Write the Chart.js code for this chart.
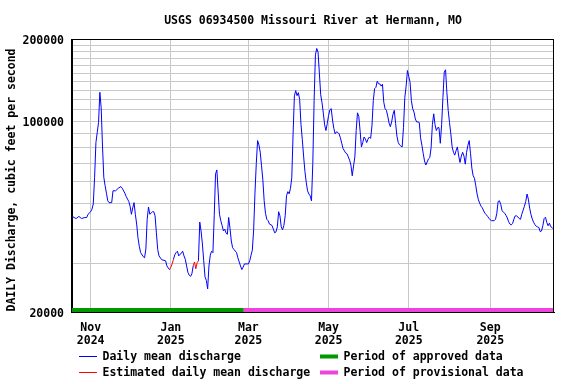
<!DOCTYPE html>
<html>
<head>
<meta charset="utf-8">
<title>USGS 06934500 Missouri River at Hermann, MO</title>
<script src="https://cdn.jsdelivr.net/npm/chart.js@4.4.1/dist/chart.umd.min.js"></script>
<style>
    html, body { margin: 0; padding: 0; background: #ffffff; }
    #wrap { width: 576px; height: 384px; }
</style>
</head>
<body>
<div id="wrap"><canvas id="hydrograph" width="576" height="384"></canvas></div>
<script>
'use strict';

// Day offsets are counted from 2024-10-17 (day 0).
var START_DATE = '2024-10-17';

// Daily mean discharge, cfs (null = estimated day, drawn in red below)
var flowDays = [
    1, 3, 4, 6, 8, 10, 12, 13, 15, 16, 17, 18, 19, 20, 21, 22, 23, 24, 25, 26,
    27, 28, 29, 31, 32, 34, 36, 38, 39, 41, 42, 44, 45, 46, 47, 48, 49, 50, 51, 52,
    53, 55, 56, 57, 58, 59, 60, 61, 62, 63, 64, 65, 66, 67, 69, 72, 73, 74, 75, 76,
    77, 78, 79, 80, 81, 82, 84, 85, 86, 87, 88, 89, 90, 91, 92, 93, 94, 95, 96, 97,
    98, 99, 100, 101, 102, 103, 104, 105, 106, 107, 108, 109, 110, 111, 112, 113, 114, 115, 116, 117,
    118, 119, 120, 121, 122, 123, 124, 126, 127, 128, 129, 130, 131, 132, 134, 135, 136, 137, 138, 139,
    140, 141, 142, 143, 144, 145, 146, 147, 148, 149, 150, 151, 153, 154, 155, 156, 157, 158, 159, 160,
    161, 162, 163, 164, 165, 166, 167, 168, 169, 170, 171, 172, 173, 174, 175, 176, 177, 178, 179, 180,
    181, 182, 183, 184, 185, 186, 187, 188, 189, 190, 191, 192, 193, 194, 195, 196, 197, 198, 199, 200,
    201, 202, 203, 204, 205, 206, 207, 209, 210, 211, 212, 213, 214, 215, 216, 217, 218, 219, 220, 221,
    222, 223, 224, 225, 226, 227, 228, 229, 230, 231, 232, 233, 234, 235, 236, 237, 238, 239, 240, 241,
    242, 243, 244, 245, 246, 247, 248, 249, 250, 251, 252, 253, 254, 255, 256, 257, 258, 259, 260, 261,
    262, 263, 264, 265, 266, 267, 268, 269, 270, 271, 272, 273, 274, 275, 276, 277, 278, 279, 280, 281,
    282, 283, 284, 285, 286, 287, 288, 289, 290, 291, 292, 293, 294, 295, 296, 297, 298, 299, 300, 301,
    302, 303, 304, 305, 306, 307, 308, 309, 310, 311, 312, 313, 314, 315, 316, 317, 318, 319, 320, 322,
    323, 324, 325, 326, 327, 328, 329, 330, 331, 332, 333, 334, 335, 336, 337, 338, 339, 340, 341, 342,
    343, 344, 345, 346, 347, 348, 349, 350, 351, 352, 353, 354, 355, 356, 357, 358, 359, 360, 361, 362,
    363, 364, 365, 366, 367
];
var flowCfs = [
    44800, 44200, 44000, 44800, 44000, 44300, 44400, 45600, 46600, 47600, 49800, 62300, 83500, 91000, 99000, 127600, 112000, 81100, 62300, 58000,
    54500, 51100, 50300, 50300, 55600, 55600, 56800, 57600, 56800, 54500, 53000, 50800, 48800, 45600, 48100, 50300, 45600, 42000, 37400, 34800,
    33000, 31900, 31600, 34000, 43700, 48500, 45600, 46100, 46600, 46600, 45000, 39000, 33900, 32100, 31100, 30800, 29500, 29000, 28600, null,
    null, 31200, 32400, 33000, 33400, 32100, 32900, 33400, 32100, 31200, 29500, 27900, 27300, 27000, 27600, 29500, null, null, null, 30800,
    42700, 39600, 35500, 30800, 26900, 26100, 24300, 29500, 32300, 33400, 33000, 45000, 64000, 66300, 55000, 45600, 43200, 41500, 39600, 40200,
    39000, 38500, 44400, 40500, 36400, 34400, 33900, 33000, 31600, 30500, 29500, 28600, 29200, 30000, 30000, 30000, 30800, 32300, 33700, 40000,
    54500, 70000, 84900, 81900, 77000, 68600, 61000, 51100, 46000, 43700, 43200, 42000, 41500, 40200, 39000, 39300, 41000, 46600, 45000, 41000,
    40000, 41500, 45000, 53300, 55200, 54200, 56700, 62000, 89900, 123800, 129400, 124000, 127200, 120000, 97400, 85800, 74500, 65500, 59800, 55600,
    54100, 53300, 51100, 70000, 118900, 175000, 184600, 179000, 150000, 125000, 116900, 107000, 97000, 92400, 98000, 105000, 110000, 111200, 101000, 94100,
    89900, 91400, 91000, 89900, 86900, 83000, 79400, 76500, 76000, 74000, 72000, 69000, 63100, 68500, 74000, 92400, 107300, 104000, 92000, 80500,
    83500, 87500, 86000, 83500, 86000, 87500, 86500, 96000, 118900, 131500, 133000, 140000, 137000, 137000, 134400, 136600, 117200, 111100, 109600, 104400,
    98500, 95500, 99400, 106000, 109600, 98000, 88200, 83500, 81900, 81100, 80500, 95000, 122100, 134400, 153300, 146000, 138800, 118900, 111100, 108000,
    101900, 99400, 99400, 98900, 86900, 81600, 76200, 71500, 69100, 70900, 72800, 73500, 80000, 97400, 106400, 97000, 92400, 94700, 94700, 83000,
    97000, 122100, 151200, 154300, 127600, 109600, 98900, 89900, 80500, 76900, 75100, 78000, 80500, 74500, 70600, 74500, 76900, 74500, 69600, 76900,
    81600, 84900, 76000, 67300, 63100, 61800, 58000, 54100, 51500, 50000, 48800, 48100, 46900, 46000, 45400, 44800, 44100, 43500, 43200, 43200,
    43700, 46000, 50800, 51100, 49500, 47000, 46400, 46000, 45200, 44200, 42800, 42000, 41700, 42200, 43800, 45000, 45000, 44600, 44000, 43700,
    45600, 47200, 48800, 50800, 54100, 51800, 48000, 45500, 43800, 42600, 41800, 41200, 41000, 40800, 39400, 39600, 41400, 44000, 44500, 42600,
    41400, 42300, 41100, 40800, 40300
];

// Estimated daily mean discharge, cfs (two short runs around New Year)
var estDays = [75, 76, 77, 78, null, 93, 94, 95, 96, 97];
var estCfs = [28600, 29200, 30000, 31200, null, 29500, 30500, 28800, 30300, 30800];

// Approval status periods (day offsets)
var approvedSpan = [0.8, 131.5];
var provisionalSpan = [131.5, 367.5];

// Axis ticks
var tickDays = [15, 76, 135, 196, 257, 319];
var tickMonths = ['Nov', 'Jan', 'Mar', 'May', 'Jul', 'Sep'];
var tickYears = ['2024', '2025', '2025', '2025', '2025', '2025'];
var yLabelValues = [20000, 100000, 200000];

var FONT = '"DejaVu Sans Mono", "Liberation Mono", monospace';
var GRID = '#c8c8c8';
var APPROVED = '#009900';
var PROVISIONAL = '#ee44dd';

/**
 * Zip day offsets and values into {x, y} points for Chart.js
 */
function toPoints(days, values) {
    return days.map(function(d, i) {
        return { x: d, y: values[i] };
    });
}

// Gridlines every 10000 cfs, labels only on yLabelValues
var yGridValues = [];
for (var v = 20000; v <= 200000; v += 10000) {
    yGridValues.push(v);
}

var usgsExtras = {
    id: 'usgsExtras',

    beforeDatasetsDraw: function(chart) {
        var ctx = chart.ctx;
        var xs = chart.scales.x;
        var area = chart.chartArea;
        var spans = [[approvedSpan, APPROVED], [provisionalSpan, PROVISIONAL]];
        ctx.save();
        spans.forEach(function(s) {
            var x0 = xs.getPixelForValue(Math.max(s[0][0], xs.min));
            var x1 = xs.getPixelForValue(Math.min(s[0][1], xs.max));
            ctx.fillStyle = s[1];
            ctx.fillRect(x0, area.bottom - 4, x1 - x0, 4);
        });
        ctx.restore();
    },

    afterDraw: function(chart) {
        var ctx = chart.ctx;
        var area = chart.chartArea;
        ctx.save();

        // frame round the plot
        ctx.strokeStyle = '#000000';
        ctx.lineWidth = 1;
        ctx.strokeRect(Math.round(area.left) - 0.5, Math.round(area.top) + 0.5,
            Math.round(area.right - area.left), Math.round(area.bottom - area.top));

        ctx.fillStyle = '#000000';
        ctx.font = 'bold 11.5px ' + FONT;
        ctx.textBaseline = 'middle';

        // title
        ctx.textAlign = 'center';
        ctx.fillText('USGS 06934500 Missouri River at Hermann, MO', (area.left + area.right) / 2, 21);

        // y axis title
        ctx.save();
        ctx.translate(12, 180);
        ctx.rotate(-Math.PI / 2);
        ctx.fillText('DAILY Discharge, cubic feet per second', 0, 0);
        ctx.restore();

        // legend
        ctx.textAlign = 'left';
        var rows = [
            { x: 79, y: 356.5, kind: 'line', color: '#0000ff', text: 'Daily mean discharge' },
            { x: 79, y: 372.5, kind: 'line', color: '#ff0000', text: 'Estimated daily mean discharge' },
            { x: 320, y: 356.5, kind: 'bar', color: APPROVED, text: 'Period of approved data' },
            { x: 320, y: 372.5, kind: 'bar', color: PROVISIONAL, text: 'Period of provisional data' }
        ];
        rows.forEach(function(r) {
            if (r.kind === 'line') {
                ctx.strokeStyle = r.color;
                ctx.beginPath();
                ctx.moveTo(r.x, r.y);
                ctx.lineTo(r.x + 18, r.y);
                ctx.stroke();
            } else {
                ctx.fillStyle = r.color;
                ctx.fillRect(r.x, r.y - 2, 18, 4);
            }
            ctx.fillStyle = '#000000';
            ctx.fillText(r.text, r.x + 23.5, r.y + 1);
        });

        ctx.restore();
    }
};

var config = {
    type: 'line',
    data: {
        datasets: [{
            label: 'Daily mean discharge',
            data: toPoints(flowDays, flowCfs),
            borderColor: '#0000ff',
            borderWidth: 1,
            pointRadius: 0,
            tension: 0,
            spanGaps: false
        }, {
            label: 'Estimated daily mean discharge',
            data: toPoints(estDays, estCfs),
            borderColor: '#ff0000',
            borderWidth: 1,
            pointRadius: 0,
            tension: 0,
            spanGaps: false
        }]
    },
    options: {
        responsive: false,
        animation: false,
        layout: {
            padding: { left: 0, right: 22, top: 39, bottom: 0 }
        },
        plugins: {
            legend: { display: false },
            tooltip: { enabled: false },
            title: { display: false }
        },
        scales: {
            x: {
                type: 'linear',
                min: 0.8,
                max: 367.5,
                afterBuildTicks: function(scale) {
                    scale.ticks = tickDays.map(function(d) { return { value: d }; });
                },
                afterFit: function(scale) {
                    scale.height = 72;
                },
                ticks: {
                    autoSkip: false,
                    maxRotation: 0,
                    padding: 10,
                    color: '#000000',
                    font: { family: FONT, size: 11.5, weight: 'bold', lineHeight: 1.13 },
                    callback: function(value, index) {
                        return [tickMonths[index], tickYears[index]];
                    }
                },
                grid: { color: GRID, lineWidth: 1, drawTicks: false },
                border: { color: '#000000', width: 1 }
            },
            y: {
                type: 'logarithmic',
                min: 20000,
                max: 200000,
                afterBuildTicks: function(scale) {
                    scale.ticks = yGridValues.map(function(val) { return { value: val }; });
                },
                afterFit: function(scale) {
                    scale.width = 72;
                },
                ticks: {
                    autoSkip: false,
                    padding: 8,
                    labelOffset: 2,
                    color: '#000000',
                    font: { family: FONT, size: 11.5, weight: 'bold' },
                    callback: function(value) {
                        return yLabelValues.indexOf(value) >= 0 ? String(value) : '';
                    }
                },
                grid: { color: GRID, lineWidth: 1, drawTicks: false },
                border: { color: '#000000', width: 1 }
            }
        }
    },
    plugins: [usgsExtras]
};

new Chart(document.getElementById('hydrograph').getContext('2d'), config);
</script>
</body>
</html>
